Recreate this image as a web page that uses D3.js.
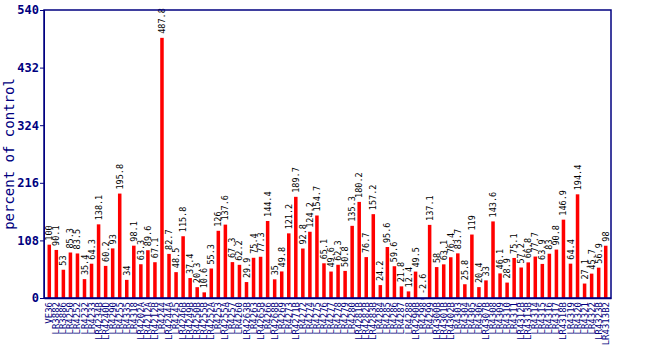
<!DOCTYPE html>
<html><head><meta charset="utf-8">
<script src="https://cdn.jsdelivr.net/npm/d3@7/dist/d3.min.js"></script>
<style>body{margin:0;background:#fff;}</style>
</head><body><svg id="c" width="650" height="350"></svg>
<script>
const categories = ["VE36","LR3882","LR3886","LR4250","LR4252","LR4232","LR4233","LR4234B","LR4240D","LR4290","LR4255","LR4335","LR4318","LR4202A","LR4212A","LR4212B","LR4244","LR4244A","LR4245","LR4246B","LR4249B","LR4250B","LR4255B","LR4252A","LR4253","LR4255A","LR4257","LR4260","LR4263B","LR4263","LR4265B","LR4266","LR4268B","LR4269","LR4273","LR4271B","LR4272","LR4274","LR4275","LR4276","LR4277","LR4278","LR4279","LR4280","LR4281B","LR4282B","LR4283B","LR4284","LR4285","LR4286","LR4287","LR4288","LR4290B","LR4298","LR4299","LR4300B","LR4301B","LR4302B","LR4303","LR4304","LR4305","LR4306","LR4307B","LR4308","LR4309","LR4310","LR4311","LR4312B","LR4313B","LR4314","LR4315","LR4316","LR4317","LR4318B","LR4319","LR4320","LR4321","LR4322","LR4323B","LR4313B2"];
const values = [100,90.1,53,85.3,83.5,35.4,64.3,138.1,60.2,93,195.8,34,98.1,63.3,89.6,67.1,487.8,82.7,48.5,115.8,37.4,20.3,10.6,55.3,126,137.6,67.3,62.2,29.9,75.4,77.3,144.4,35,49.8,121.2,189.7,92.8,124.2,154.7,65.1,49.6,62.3,50.8,135.3,180.2,76.7,157.2,24.2,95.6,59.6,21.8,12.4,49.5,-2.6,137.1,58,63.1,76.4,83.7,25.8,119,20.4,33,143.6,46.1,28.9,75.1,57.2,66.8,77.7,63.9,83,90.8,146.9,64.4,194.4,27.1,45.7,56.9,98];
const valueLabels = ["100","90.1","53","85.3","83.5","35.4","64.3","138.1","60.2","93","195.8","34","98.1","63.3","89.6","67.1","487.8","82.7","48.5","115.8","37.4","20.3","10.6","55.3","126","137.6","67.3","62.2","29.9","75.4","77.3","144.4","35","49.8","121.2","189.7","92.8","124.2","154.7","65.1","49.6","62.3","50.8","135.3","180.2","76.7","157.2","24.2","95.6","59.6","21.8","12.4","49.5","-2.6","137.1","58","63.1","76.4","83.7","25.8","119","20.4","33","143.6","46.1","28.9","75.1","57.2","66.8","77.7","63.9","83","90.8","146.9","64.4","194.4","27.1","45.7","56.9","98"];
const yTicks = [0,108,216,324,432,540];
const yTitle = "percent of control";

const L=44,R=611,T=10,B=298;
const navy="#000080";
const svg=d3.select("#c");
const x=d3.scaleBand().domain(categories.map((d,i)=>i)).range([L,R]).paddingInner(0.5).paddingOuter(0.5);
const y=d3.scaleLinear().domain([0,540]).range([B,T]);

svg.append("g").selectAll("rect").data(values).join("rect")
  .attr("x",(d,i)=>x(i)).attr("width",x.bandwidth())
  .attr("y",d=>y(Math.max(0,d))).attr("height",d=>Math.abs(y(d)-y(0)))
  .attr("fill",d=>d<0?"#0000ff":"#ff0000");

svg.append("g").selectAll("text").data(values).join("text")
  .attr("transform",(d,i)=>`translate(${x(i)+x.bandwidth()/2+3},${y(Math.max(0,d))-4}) rotate(-90)`)
  .attr("font-family","DejaVu Sans Mono").attr("font-size",8.5).attr("fill","#000")
  .text((d,i)=>valueLabels[i]);

// frame
svg.append("rect").attr("x",L).attr("y",T).attr("width",R-L).attr("height",B-T)
  .attr("fill","none").attr("stroke",navy).attr("stroke-width",1.5);

const ya=svg.append("g").attr("transform",`translate(${L},0)`)
  .call(d3.axisLeft(y).tickValues(yTicks).tickSize(4).tickPadding(1));
ya.select(".domain").attr("stroke",navy);
ya.selectAll("line").attr("stroke",navy);
ya.selectAll("text").attr("fill",navy).attr("font-family","DejaVu Sans Mono").attr("font-weight","bold").attr("font-size",12);

const xa=svg.append("g").attr("transform",`translate(0,${B})`)
  .call(d3.axisBottom(x).tickSize(0).tickPadding(0).tickFormat(i=>categories[i]));
xa.select(".domain").attr("stroke",navy).attr("stroke-width",1.5);
xa.selectAll("text").attr("fill",navy).attr("font-family","DejaVu Sans Mono").attr("font-size",9)
  .attr("text-anchor","end").attr("dy",null).attr("y",null)
  .attr("transform","translate(3,4) rotate(-90)");

svg.append("text").attr("transform",`translate(14,${(T+B)/2}) rotate(-90)`)
  .attr("text-anchor","middle").attr("font-family","DejaVu Sans Mono").attr("font-size",14)
  .attr("fill",navy).text(yTitle);
</script></body></html>
